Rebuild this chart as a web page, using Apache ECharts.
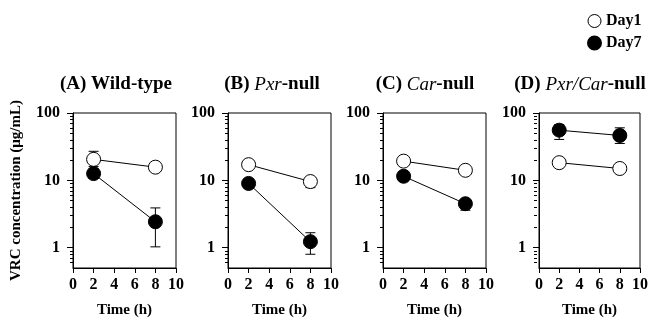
<!DOCTYPE html>
<html>
<head>
<meta charset="utf-8">
<script src="https://cdn.jsdelivr.net/npm/echarts@6/dist/echarts.min.js"></script>
<style>
  html, body { margin: 0; padding: 0; background: #fff; }
  #chart { width: 651px; height: 320px; }
</style>
</head>
<body>
<div id="chart"></div>
<script>
// data
const times = [2, 8];
const xTicks = [0, 2, 4, 6, 8, 10];
const yMajor = [1, 10, 100];
const yMinor = [0.6, 0.7, 0.8, 0.9, 2, 3, 4, 5, 6, 7, 8, 9, 20, 30, 40, 50, 60, 70, 80, 90];

const panelTitles = [
  '{n|(A) Wild-type}',
  '{n|(B) }{i|Pxr}{n|-null}',
  '{n|(C) }{i|Car}{n|-null}',
  '{n|(D) }{i|Pxr/Car}{n|-null}'
];

// mean values per panel, at times 2 h and 8 h
const day1 = [[20.5, 15.7], [17.1, 9.6], [19.3, 14.1], [18.3, 15.0]];
const day7 = [[12.6, 2.43], [9.0, 1.23], [11.5, 4.5], [55.6, 46.4]];
// error bars [low, high]
const day1Err = [
  [[16, 27], [14.5, 17]],
  [[15, 19], [7.8, 11]],
  [[17.5, 21], [13, 15.5]],
  [[16.5, 20], [13.5, 16.5]]
];
const day7Err = [
  [[10.7, 14.9], [1.03, 3.9]],
  [[8, 10], [0.8, 1.67]],
  [[10.5, 12.5], [3.6, 5.2]],
  [[40.5, 67.5], [35.3, 60.3]]
];

const font = 'Liberation Serif';
const gridLefts = [73, 228, 383, 539];
const gridWidth = 103;
const titleCenters = [111, 267, 420, 575];

const myChart = echarts.init(document.getElementById('chart'));

const grids = [], xAxes = [], yAxes = [], series = [], titles = [];

function errRender(params, api) {
  const x = api.value(0);
  const lo = api.coord([x, api.value(1)]);
  const hi = api.coord([x, api.value(2)]);
  const w = 5;
  const st = { stroke: '#000', lineWidth: 1 };
  return {
    type: 'group',
    children: [
      { type: 'line', shape: { x1: lo[0], y1: lo[1], x2: hi[0], y2: hi[1] }, style: st },
      { type: 'line', shape: { x1: hi[0] - w, y1: hi[1], x2: hi[0] + w, y2: hi[1] }, style: st },
      { type: 'line', shape: { x1: lo[0] - w, y1: lo[1], x2: lo[0] + w, y2: lo[1] }, style: st }
    ]
  };
}

for (let i = 0; i < 4; i++) {
  grids.push({
    left: gridLefts[i], top: 113, width: gridWidth, height: 155,
    show: true, borderColor: '#000', borderWidth: 1, backgroundColor: 'transparent'
  });
  titles.push({
    text: panelTitles[i],
    left: titleCenters[i], top: 70, textAlign: 'center',
    textStyle: {
      rich: {
        n: { fontFamily: font, fontSize: 19, fontWeight: 'bold', color: '#000' },
        i: { fontFamily: font, fontSize: 19, fontStyle: 'italic', fontWeight: 'normal', color: '#000' }
      }
    }
  });
  xAxes.push({
    type: 'value', gridIndex: i, min: 0, max: 10, interval: 2,
    axisLine: { show: true, lineStyle: { color: '#000', width: 1 } },
    axisTick: { show: true, length: 5, lineStyle: { color: '#000' } },
    axisLabel: { color: '#000', fontFamily: font, fontSize: 16, fontWeight: 'bold', margin: 9 },
    splitLine: { show: false },
    name: 'Time (h)', nameLocation: 'middle', nameGap: 35,
    nameTextStyle: { color: '#000', fontFamily: font, fontSize: 15, fontWeight: 'bold' }
  });
  // main log axis
  yAxes.push({
    type: 'log', logBase: 10, gridIndex: i, min: 0.5, max: 100, position: 'left',
    axisLine: { show: true, lineStyle: { color: '#000', width: 1 } },
    axisTick: { show: true, length: 6, customValues: yMajor, lineStyle: { color: '#000' } },
    axisLabel: { customValues: yMajor, color: '#000', fontFamily: font, fontSize: 16, fontWeight: 'bold', margin: 13 },
    splitLine: { show: false },
    name: i === 0 ? 'VRC concentration (μg/mL)' : '',
    nameLocation: 'middle', nameGap: 49,
    nameTextStyle: { color: '#000', fontFamily: font, fontSize: 15, fontWeight: 'bold' }
  });
  // second axis only for the short minor ticks, moved back onto the left edge
  yAxes.push({
    type: 'log', logBase: 10, gridIndex: i, min: 0.5, max: 100,
    position: 'right', offset: -gridWidth,
    axisLine: { show: false },
    axisTick: { show: true, inside: true, length: 3, customValues: yMinor, lineStyle: { color: '#000' } },
    axisLabel: { show: false },
    splitLine: { show: false }
  });

  series.push({
    type: 'custom', xAxisIndex: i, yAxisIndex: 2 * i, renderItem: errRender,
    data: times.map((t, k) => [t, day1Err[i][k][0], day1Err[i][k][1]]),
    encode: { x: 0, y: [1, 2] }, silent: true, z: 1
  });
  series.push({
    type: 'custom', xAxisIndex: i, yAxisIndex: 2 * i, renderItem: errRender,
    data: times.map((t, k) => [t, day7Err[i][k][0], day7Err[i][k][1]]),
    encode: { x: 0, y: [1, 2] }, silent: true, z: 1
  });
  series.push({
    name: 'Day1', type: 'line', xAxisIndex: i, yAxisIndex: 2 * i,
    data: times.map((t, k) => [t, day1[i][k]]),
    symbol: 'circle', symbolSize: 14, z: 3,
    lineStyle: { color: '#000', width: 1 },
    itemStyle: { color: '#fff', borderColor: '#000', borderWidth: 1 }
  });
  series.push({
    name: 'Day7', type: 'line', xAxisIndex: i, yAxisIndex: 2 * i,
    data: times.map((t, k) => [t, day7[i][k]]),
    symbol: 'circle', symbolSize: 14, z: 3,
    lineStyle: { color: '#000', width: 1 },
    itemStyle: { color: '#000', borderColor: '#000', borderWidth: 1 }
  });
}

myChart.setOption({
  animation: false,
  title: titles,
  legend: {
    orient: 'vertical', left: 582, top: 8, itemGap: 6,
    itemWidth: 13, itemHeight: 13,
    data: [
      { name: 'Day1', icon: 'circle', itemStyle: { color: '#fff', borderColor: '#000', borderWidth: 1 } },
      { name: 'Day7', icon: 'circle', itemStyle: { color: '#000' } }
    ],
    textStyle: { color: '#000', fontFamily: font, fontSize: 16, fontWeight: 'bold' }
  },
  grid: grids,
  xAxis: xAxes,
  yAxis: yAxes,
  series: series
});
</script>
</body>
</html>
